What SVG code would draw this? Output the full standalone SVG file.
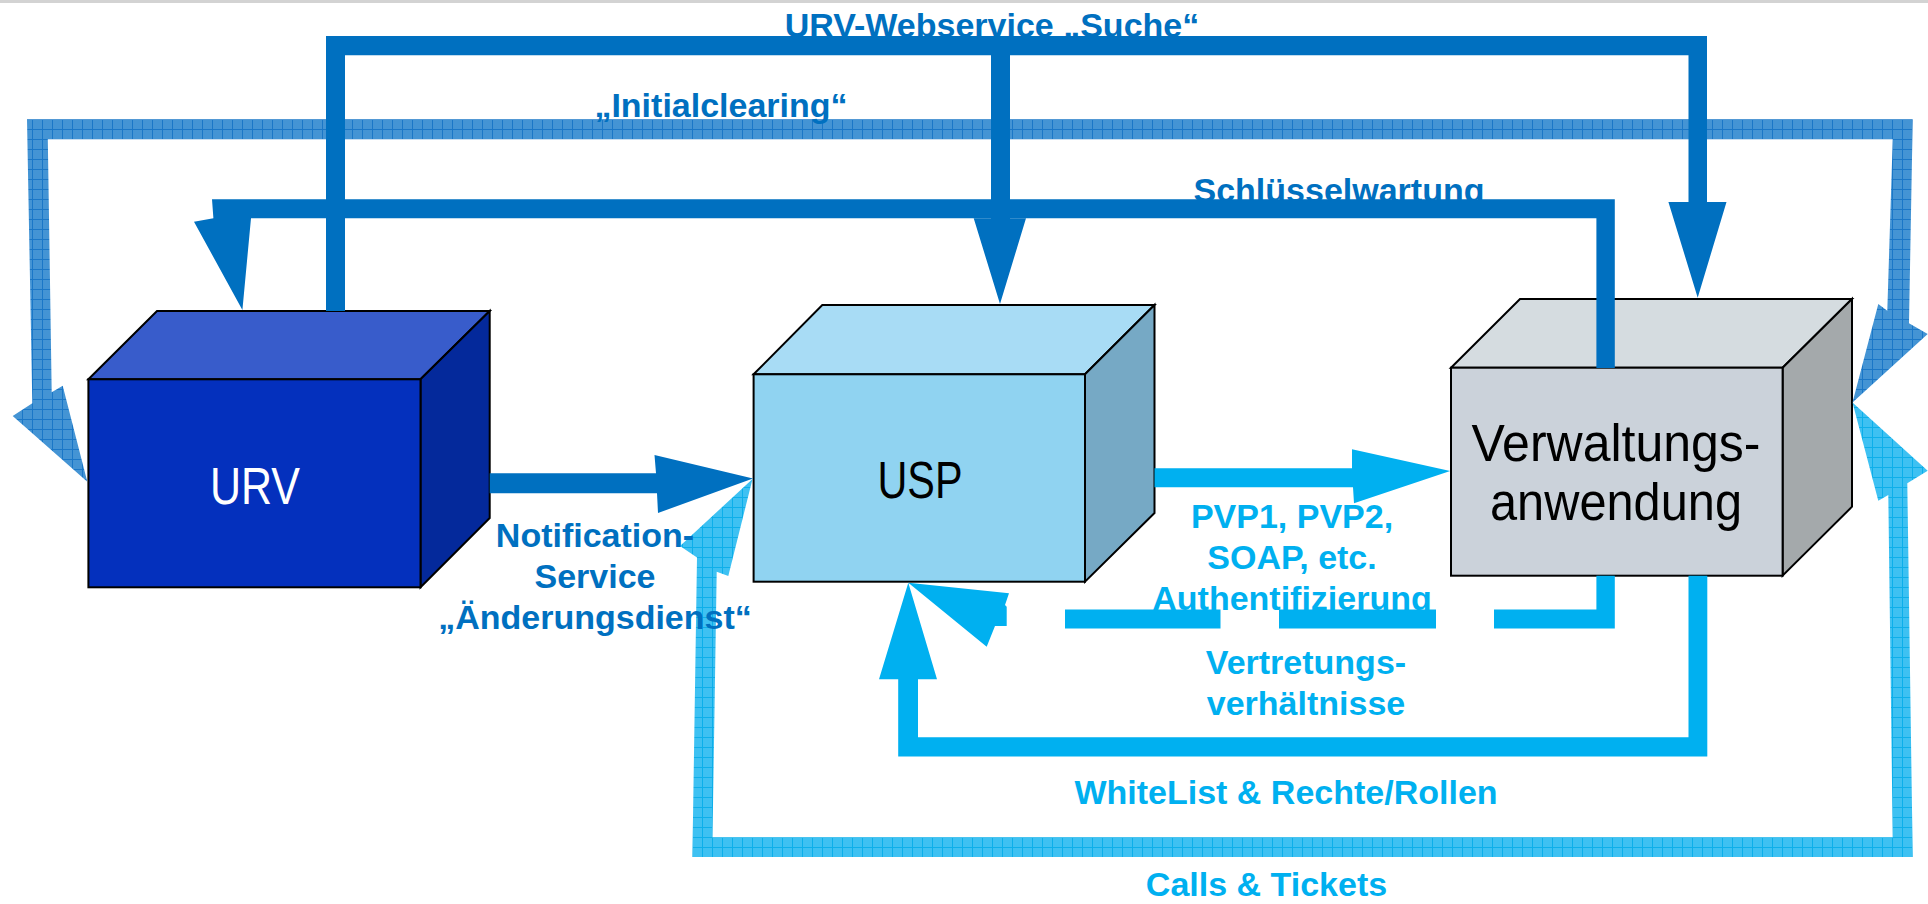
<svg xmlns="http://www.w3.org/2000/svg" width="1928" height="904" viewBox="0 0 1928 904">
<defs>
<style>
.lbl{font-family:"Liberation Sans",Arial,sans-serif;font-weight:bold;font-size:34px;text-anchor:middle}
.dk{fill:#0070C0}
.lt{fill:#00B0F0}
.box{stroke:#000;stroke-width:2;stroke-linejoin:miter}
.btxt{font-family:"Liberation Sans",Arial,sans-serif;font-size:51px;text-anchor:middle}
</style>
<pattern id="hatchDark" x="2" y="9" width="10" height="10" patternUnits="userSpaceOnUse">
<rect width="10" height="10" fill="#4494D4"/>
<path d="M0 0.5H10M0.5 0V10" stroke="#1B77C7" stroke-width="1"/>
</pattern>
<pattern id="hatchLight" x="2" y="7" width="10" height="10" patternUnits="userSpaceOnUse">
<rect width="10" height="10" fill="#3EC1F2"/>
<path d="M0 0.5H10M0.5 0V10" stroke="#0DAFEA" stroke-width="1"/>
</pattern>
</defs>
<rect width="1928" height="904" fill="#FFFFFF"/>
<rect x="0" y="0" width="1928" height="3" fill="#D3D3D3"/>

<g id="node-urv">
<polygon class="box" points="88.4,379.3 157,311 489.7,311 420.5,379.3" fill="#385CCB"/>
<polygon class="box" points="420.5,379.3 489.7,311 489.7,518 420.5,587.3" fill="#04299B"/>
<rect class="box" x="88.4" y="379.3" width="332.1" height="208" fill="#0430BD"/>
<text class="btxt" x="255" y="504" fill="#FFFFFF" textLength="90" lengthAdjust="spacingAndGlyphs">URV</text>
</g>

<g id="node-usp">
<polygon class="box" points="753.6,374.3 822.3,305 1154.5,305 1085,374.3" fill="#A8DCF5"/>
<polygon class="box" points="1085,374.3 1154.5,305 1154.5,513 1085,581.7" fill="#76A9C5"/>
<rect class="box" x="753.6" y="374.3" width="331.4" height="207.4" fill="#90D3F1"/>
<text class="btxt" x="920" y="498" fill="#000000" textLength="85" lengthAdjust="spacingAndGlyphs">USP</text>
</g>

<g id="node-verwaltung">
<polygon class="box" points="1451,367.7 1520,299 1852,299 1782.6,367.7" fill="#D5DCE0"/>
<polygon class="box" points="1782.6,367.7 1852,299 1852,506.7 1782.6,575.7" fill="#A4A9AB"/>
<rect class="box" x="1451" y="367.7" width="331.6" height="208" fill="#CBD2DA"/>
<text class="btxt" x="1616" y="461" fill="#000000" textLength="289" lengthAdjust="spacingAndGlyphs">Verwaltungs-</text>
<text class="btxt" x="1616" y="520" fill="#000000" textLength="252" lengthAdjust="spacingAndGlyphs">anwendung</text>
</g>

<g id="labels-under">
<text class="lbl dk" x="992" y="37">URV-Webservice „Suche“</text>
<text class="lbl dk" x="1339" y="202">Schlüsselwartung</text>
<text class="lbl lt" x="1292" y="528">PVP1, PVP2,</text>
<text class="lbl lt" x="1292" y="569">SOAP, etc.</text>
<text class="lbl lt" x="1292" y="610">Authentifizierung</text>
</g>

<g id="connectors">
<!-- Initialclearing (hatched, double-headed) -->
<polygon fill="url(#hatchDark)" points="27,119.3 1912.7,119.3 1909,323.3 1927.7,334 1852.5,402.5 1878.3,304 1887.3,310.7 1892.7,139.3 47.8,139.3 51.7,392.3 62.7,385.7 87.3,481.7 12.7,416 32.3,403.3"/>
<!-- URV-Webservice Suche -->
<polygon class="dk" points="326,36 1707,36 1707,202 1726.5,202 1697.7,297.7 1668.4,202 1688.5,202 1688.5,55.3 1010,55.3 1010,218.3 1026,218.3 1000,304 973.7,218.3 991,218.3 991,55.3 345,55.3 345,311 326,311"/>
<!-- Schluesselwartung -->
<polygon class="dk" points="212,199.3 1614.8,199.3 1614.8,368 1596.4,368 1596.4,218.3 251,218.3 242.4,310 194,221.7 213.4,218.3"/>
<!-- Notification-Service -->
<polygon class="dk" points="489.7,473.3 656,473.3 654.5,455 753,478.5 658,513 657,493.3 489.7,493.3"/>
<!-- PVP1, PVP2 -->
<polygon class="lt" points="1154.5,468.3 1352,468.3 1352,449.3 1450.2,471 1354,503.3 1353,487.3 1154.5,487.3"/>
<!-- Authentifizierung (dashed) -->
<polygon class="lt" points="1596.4,575.7 1614.8,575.7 1614.8,628.5 1494,628.5 1494,609.5 1596.4,609.5"/>
<rect class="lt" x="1279" y="609.5" width="157" height="19"/>
<rect class="lt" x="1065" y="609.5" width="155.5" height="19"/>
<polygon class="lt" points="908.3,582.7 1009,593.3 1005,605 1006.7,606.7 1006.7,626 995,626 986.7,646.7"/>
<!-- WhiteList & Rechte/Rollen -->
<polygon class="lt" points="908.3,582.7 937,679.3 918,679.3 918,737.3 1688.5,737.3 1688.5,575.7 1707.3,575.7 1707.3,756.5 898.2,756.5 898.2,679.3 879,679.3"/>
<!-- Calls & Tickets (hatched, double-headed) -->
<polygon fill="url(#hatchLight)" points="692.4,857 1912.7,857 1907.3,483.3 1927.7,470.7 1852.5,402.5 1878.3,500.7 1888.3,495 1892.7,837.3 712.5,837.3 716.7,571.7 728.3,576 752.5,479 680,546 697,557.5"/>
</g>

<g id="labels-over">
<text class="lbl dk" x="721" y="117">„Initialclearing“</text>
<text class="lbl dk" x="595" y="547">Notification-</text>
<text class="lbl dk" x="595" y="588">Service</text>
<text class="lbl dk" x="595" y="629">„Änderungsdienst“</text>
<text class="lbl lt" x="1306" y="674">Vertretungs-</text>
<text class="lbl lt" x="1306" y="715">verhältnisse</text>
<text class="lbl lt" x="1286" y="804">WhiteList &amp; Rechte/Rollen</text>
<text class="lbl lt" x="1266.5" y="896">Calls &amp; Tickets</text>
</g>
</svg>
